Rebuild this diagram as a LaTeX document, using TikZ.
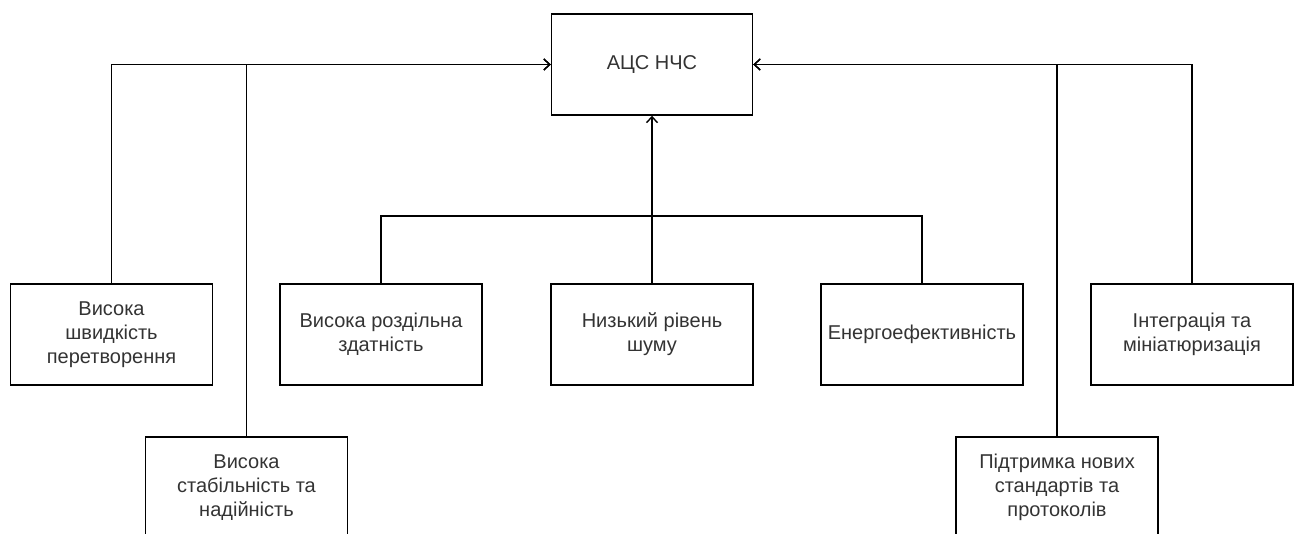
\documentclass[tikz,border=0pt]{standalone}
\usepackage{fontspec}
\setmainfont{Liberation Sans}
\usetikzlibrary{arrows.meta}
\definecolor{txt}{HTML}{333333}
\begin{document}
\begin{tikzpicture}[x=1pt,y=-1pt,
  box/.style={draw=black, line width=1.4pt, minimum width=202pt, minimum height=101pt,
    inner sep=0pt, align=center, text=txt,
    font=\fontsize{20}{24}\selectfont},
  link/.style={line width=1.4pt, draw=black},
  arr/.style={link, -{Straight Barb[length=6pt, width=11pt, line width=1.4pt]}}]
\useasboundingbox (0,0) rectangle (1300,534);

% central block
\node[box, minimum width=201pt] (c) at (652,64.5) {АЦС НЧС};

% upper row of properties
\node[box] (b1) at (111.5,334.5) {Висока\\швидкість\\перетворення};
\node[box] (b2) at (381,334.5) {Висока роздільна\\здатність};
\node[box] (b3) at (652,334.5) {Низький рівень\\шуму};
\node[box] (b4) at (922,334.5) {Енергоефективність};
\node[box] (b5) at (1192,334.5) {Інтеграція та\\мініатюризація};

% lower row of properties
\node[box] (b6) at (246.5,487.5) {Висока\\стабільність та\\надійність};
\node[box] (b7) at (1057,487.5) {Підтримка нових\\стандартів та\\протоколів};

% bus level under the central block
\coordinate (bus) at (652,216);

% connections into the left side
\draw[arr] (b1.north) |- (c.west);
\draw[arr] (b6.north) |- (c.west);

% connections into the right side
\draw[arr] (b5.north) |- (c.east);
\draw[arr] (b7.north) |- (c.east);

% connections into the bottom
\draw[arr] (b3.north) -- (c.south);
\draw[link] (b2.north) |- (bus);
\draw[link] (b4.north) |- (bus);
\end{tikzpicture}
\end{document}
